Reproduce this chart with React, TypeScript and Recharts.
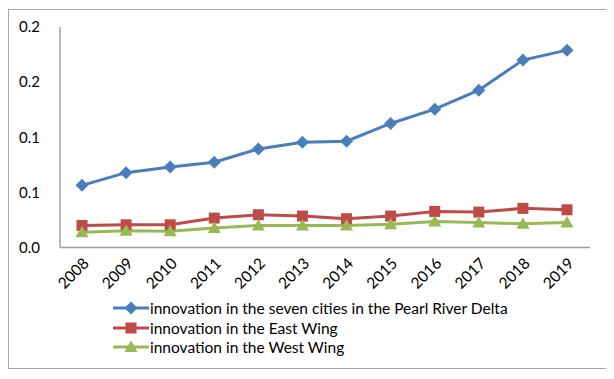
import { Legend, Line, LineChart, XAxis, YAxis } from "recharts";

const YEARS = ["2008", "2009", "2010", "2011", "2012", "2013", "2014", "2015", "2016", "2017", "2018", "2019"];
const PEARL_DELTA = [0.0564, 0.0679, 0.073, 0.0773, 0.0894, 0.0955, 0.0964, 0.1125, 0.1255, 0.1427, 0.17, 0.179];
const EAST_WING = [0.02, 0.0206, 0.0206, 0.0267, 0.0297, 0.0285, 0.0261, 0.0285, 0.0327, 0.0321, 0.0355, 0.0342];
const WEST_WING = [0.0139, 0.0152, 0.0148, 0.0176, 0.02, 0.02, 0.02, 0.0212, 0.0236, 0.0227, 0.0215, 0.0227];
const Y_TICKS = [0, 0.05, 0.1, 0.15, 0.2];
const Y_TICK_LABELS = ["0.0", "0.1", "0.1", "0.2", "0.2"];

const FONT = "Lato, 'Liberation Sans', sans-serif";

type Shape = "diamond" | "square" | "triangle";

const SERIES: { key: string; name: string; color: string; shape: Shape }[] = [
  { key: "pearl", name: "innovation in the seven cities in the Pearl River Delta", color: "#4a7ebb", shape: "diamond" },
  { key: "east", name: "innovation in the East Wing", color: "#be4b48", shape: "square" },
  { key: "west", name: "innovation in the West Wing", color: "#98b954", shape: "triangle" },
];

const data = YEARS.map((year, i) => ({
  year,
  pearl: PEARL_DELTA[i],
  east: EAST_WING[i],
  west: WEST_WING[i],
}));

function marker(shape: Shape, cx: number, cy: number, color: string, key?: string | number) {
  if (shape === "diamond") {
    const r = 6.5;
    return (
      <polygon
        key={key}
        points={`${cx},${cy - r} ${cx + r},${cy} ${cx},${cy + r} ${cx - r},${cy}`}
        fill={color}
      />
    );
  }
  if (shape === "square") {
    return <rect key={key} x={cx - 5.5} y={cy - 5.5} width={11} height={11} fill={color} />;
  }
  return (
    <polygon
      key={key}
      points={`${cx},${cy - 6.5} ${cx + 6.5},${cy + 5} ${cx - 6.5},${cy + 5}`}
      fill={color}
    />
  );
}

function makeDot(shape: Shape, color: string) {
  return (props: any) => {
    const { cx, cy, index } = props;
    if (cx == null || cy == null) return <g key={index} />;
    return marker(shape, cx, cy, color, index);
  };
}

function YearTick(props: any) {
  const { x, y, payload } = props;
  return (
    <g transform={`translate(${x + 4},${y + 5})`}>
      <text
        textAnchor="end"
        transform="rotate(-45)"
        dy="0.35em"
        fontSize={15.5}
        fontFamily={FONT}
        fill="#000"
      >
        {payload.value}
      </text>
    </g>
  );
}

function LegendContent() {
  return (
    <div style={{ paddingLeft: 104, fontFamily: FONT, fontSize: 15.5, color: "#000" }}>
      {SERIES.map((s) => (
        <div key={s.key} style={{ display: "flex", alignItems: "center", height: 19.5 }}>
          <svg width={37} height={14} style={{ display: "block" }}>
            <line x1={0} y1={7} x2={36} y2={7} stroke={s.color} strokeWidth={3} />
            {marker(s.shape, 18, 7, s.color)}
          </svg>
          <span>{s.name}</span>
        </div>
      ))}
    </div>
  );
}

export default function App() {
  return (
    <div
      style={{
        width: 599,
        height: 358,
        marginTop: 1,
        border: "1px solid #a6a6a6",
        background: "#fff",
      }}
    >
      <LineChart
        width={599}
        height={358}
        data={data}
        margin={{ top: 17, right: 18, left: 0, bottom: 11 }}
      >
        <XAxis
          dataKey="year"
          height={51}
          padding={{ left: 22, right: 23 }}
          tickLine={false}
          axisLine={{ stroke: "#a0a0a0", strokeWidth: 1.5 }}
          tick={<YearTick />}
          interval={0}
        />
        <YAxis
          width={51}
          domain={[0, 0.2]}
          ticks={Y_TICKS}
          tickLine={false}
          tickSize={6}
          tickMargin={14}
          axisLine={{ stroke: "#a0a0a0", strokeWidth: 1.5 }}
          tick={{ fontSize: 15, fontFamily: FONT, fill: "#000" }}
          tickFormatter={(v: number) => Y_TICK_LABELS[Y_TICKS.indexOf(v)] ?? String(v)}
        />
        <Legend verticalAlign="bottom" align="left" content={<LegendContent />} wrapperStyle={{ left: 0, width: 599 }} />
        {SERIES.map((s) => (
          <Line
            key={s.key}
            dataKey={s.key}
            name={s.name}
            stroke={s.color}
            strokeWidth={3}
            type="linear"
            dot={makeDot(s.shape, s.color)}
            activeDot={false}
            isAnimationActive={false}
          />
        ))}
      </LineChart>
    </div>
  );
}
